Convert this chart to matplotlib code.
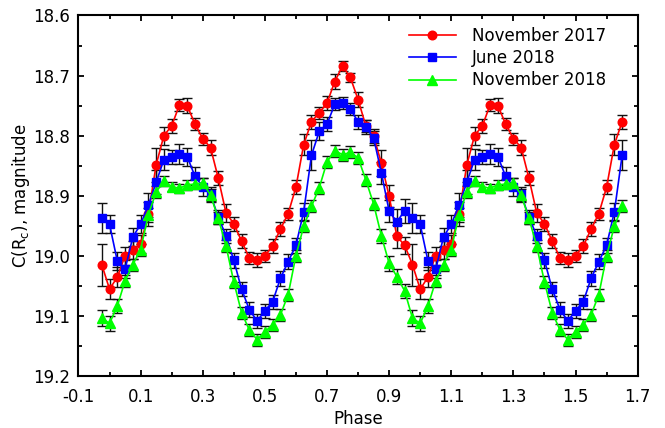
import numpy as np
import matplotlib
matplotlib.use("Agg")
import matplotlib.pyplot as plt
from matplotlib.ticker import MultipleLocator, FixedLocator

# one phase cycle (the chart repeats it from -0.025 up to 1.65)
phase = [0.000, 0.025, 0.050, 0.075, 0.100, 0.125, 0.150, 0.175, 0.200, 0.225,
         0.250, 0.275, 0.300, 0.325, 0.350, 0.375, 0.400, 0.425, 0.450, 0.475,
         0.500, 0.525, 0.550, 0.575, 0.600, 0.625, 0.650, 0.675, 0.700, 0.725,
         0.750, 0.775, 0.800, 0.825, 0.850, 0.875, 0.900, 0.925, 0.950, 0.975]

nov17 = [19.056, 19.036, 19.000, 18.990, 18.981, 18.931, 18.849, 18.800, 18.784, 18.749,
         18.750, 18.781, 18.805, 18.820, 18.871, 18.929, 18.947, 18.976, 19.004, 19.007,
         19.000, 18.984, 18.956, 18.930, 18.886, 18.815, 18.777, 18.762, 18.746, 18.710,
         18.684, 18.703, 18.740, 18.784, 18.801, 18.846, 18.901, 18.968, 18.983, 19.015]
nov17_err = [0.017, 0.017, 0.015, 0.015, 0.015, 0.020, 0.028, 0.015, 0.012, 0.010,
             0.012, 0.010, 0.010, 0.012, 0.012, 0.015, 0.012, 0.012, 0.010, 0.012,
             0.010, 0.012, 0.012, 0.010, 0.012, 0.018, 0.012, 0.010, 0.012, 0.013,
             0.008, 0.008, 0.012, 0.010, 0.012, 0.022, 0.018, 0.019, 0.014, 0.035]

jun18 = [18.948, 19.009, 19.023, 18.969, 18.948, 18.916, 18.878, 18.840, 18.836, 18.831,
         18.835, 18.868, 18.885, 18.898, 18.936, 18.967, 19.008, 19.056, 19.090, 19.109,
         19.092, 19.077, 19.038, 19.010, 18.983, 18.927, 18.833, 18.793, 18.781, 18.748,
         18.746, 18.756, 18.777, 18.786, 18.804, 18.862, 18.926, 18.944, 18.925, 18.937]
jun18_err = [0.015, 0.015, 0.015, 0.015, 0.015, 0.020, 0.020, 0.017, 0.012, 0.017,
             0.015, 0.015, 0.015, 0.012, 0.012, 0.012, 0.012, 0.012, 0.012, 0.012,
             0.012, 0.012, 0.012, 0.012, 0.012, 0.015, 0.025, 0.015, 0.012, 0.010,
             0.010, 0.010, 0.012, 0.012, 0.012, 0.018, 0.018, 0.022, 0.020, 0.025]

nov18 = [19.113, 19.084, 19.042, 19.015, 18.990, 18.932, 18.894, 18.876, 18.885, 18.888,
         18.882, 18.881, 18.879, 18.899, 18.938, 18.984, 19.044, 19.095, 19.124, 19.140,
         19.127, 19.115, 19.099, 19.065, 19.000, 18.951, 18.918, 18.887, 18.844, 18.825,
         18.832, 18.828, 18.837, 18.874, 18.914, 18.967, 19.013, 19.035, 19.059, 19.104]
nov18_err = [0.012, 0.012, 0.010, 0.010, 0.010, 0.012, 0.010, 0.008, 0.008, 0.008,
             0.008, 0.008, 0.008, 0.010, 0.010, 0.010, 0.010, 0.010, 0.010, 0.010,
             0.010, 0.010, 0.010, 0.010, 0.010, 0.010, 0.010, 0.010, 0.010, 0.010,
             0.010, 0.010, 0.010, 0.010, 0.010, 0.012, 0.012, 0.012, 0.012, 0.013]

labels = ["November 2017", "June 2018", "November 2018"]
colors = ["#ff0000", "#0000ff", "#00ff00"]
markers = ["o", "s", "^"]
sizes = [6.2, 5.8, 6.8]


def unfold(v, shift=False):
    v = np.asarray(v, dtype=float)
    if shift:
        return np.concatenate([v[-1:] - 1, v, v[:27] + 1])
    return np.concatenate([v[-1:], v, v[:27]])


plt.rcParams["font.family"] = "DejaVu Sans"
plt.rcParams["mathtext.default"] = "regular"

fig = plt.figure(figsize=(6.65, 4.28), dpi=100)
ax = fig.add_axes([0.118, 0.1224, 0.8409, 0.8414])

x = unfold(phase, shift=True)
series = [(nov17, nov17_err), (jun18, jun18_err), (nov18, nov18_err)]
for (vals, errs), lab, c, m, s in zip(series, labels, colors, markers, sizes):
    ax.errorbar(x, unfold(vals), yerr=unfold(errs), fmt="none", ecolor="#111111",
                elinewidth=1.0, capsize=3.5, capthick=1.0, zorder=1)
    ax.plot(x, unfold(vals), color=c, marker=m, markersize=s, linewidth=1.2,
            label=lab, zorder=3)

ax.set_xlim(-0.1, 1.7)
ax.set_ylim(19.2, 18.6)
ax.xaxis.set_major_locator(FixedLocator([-0.1, 0.1, 0.3, 0.5, 0.7, 0.9, 1.1, 1.3, 1.5, 1.7]))
ax.xaxis.set_minor_locator(FixedLocator([0.0, 0.2, 0.4, 0.6, 0.8, 1.0, 1.2, 1.4, 1.6]))
ax.set_xticklabels(["-0.1", "0.1", "0.3", "0.5", "0.7", "0.9", "1.1", "1.3", "1.5", "1.7"])
ax.yaxis.set_major_locator(MultipleLocator(0.1))
ax.yaxis.set_minor_locator(MultipleLocator(0.05))
ax.yaxis.set_major_formatter(plt.FormatStrFormatter("%.1f"))

ax.tick_params(which="both", direction="in", top=True, right=True, width=1.3,
               labelsize=12)
ax.tick_params(which="major", length=4.3)
ax.tick_params(which="minor", length=3)
ax.tick_params(axis="x", which="major", pad=9)
ax.tick_params(axis="y", which="major", pad=6)
for sp in ax.spines.values():
    sp.set_linewidth(1.5)

ax.set_xlabel("Phase", fontsize=12, labelpad=2.5)
ax.set_ylabel(r"C(R$_c$), magnitude", fontsize=12, labelpad=1)

ax.legend(loc="upper right", bbox_to_anchor=(0.965, 1.0), frameon=False,
          fontsize=12, handlelength=2.8, handletextpad=1.0, labelspacing=0.25,
          borderaxespad=0.3)

fig.savefig("out.png", dpi=100)
